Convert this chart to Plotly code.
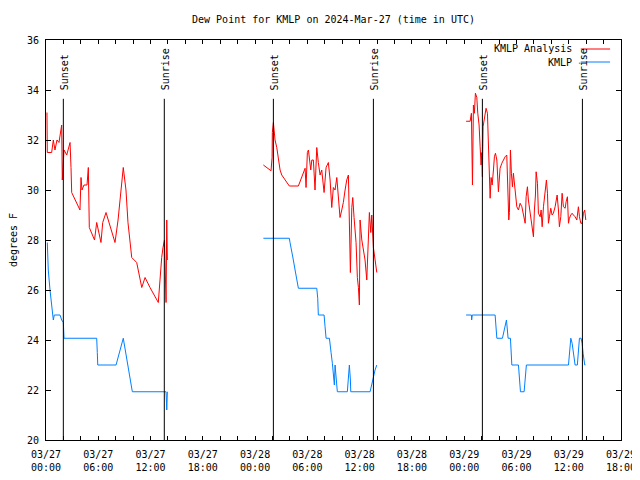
import plotly.graph_objects as go
import pandas as pd

# ---- data (hours after 2024-03-27 00:00 UTC, dew point in F) ----
base = pd.Timestamp("2024-03-27 00:00")

analysis_hours = [
    0.11, 0.15, 0.65, 0.84, 1.03, 1.26, 1.49, 1.80, 1.87, 2.07, 2.38, 2.56, 2.76, 2.87, 2.95,
    3.90, 4.02, 4.13, 4.36, 4.71, 4.86, 4.97, 5.57, 5.82, 6.00, 6.31, 6.51, 6.89, 7.92, 8.27,
    8.87, 9.18, 9.41, 9.84, 10.41, 10.79, 10.99, 11.37, 11.94, 12.89, 13.09, 13.28, 13.43,
    13.60, 13.78, 13.86, 13.93,
    None,
    24.95, 25.83, 25.95, 25.98, 26.10, 26.18, 26.29, 26.49, 26.67, 26.87, 27.06, 27.44, 27.93,
    28.97, 29.36, 29.74, 29.85, 30.00, 30.12, 30.23, 30.39, 30.51, 30.69, 30.88, 31.08, 31.26,
    31.46, 31.65, 31.92, 32.15, 32.41, 32.61, 32.80, 32.98, 33.18, 33.38, 33.56, 33.75, 33.95,
    34.13, 34.33, 34.52, 34.71, 34.82, 34.94, 35.10, 35.21, 35.36, 35.59, 35.74, 35.86, 35.97,
    36.05, 36.25, 36.43, 36.62, 36.82, 37.00, 37.12, 37.28, 37.39, 37.58, 37.77, 37.97,
    None,
    48.22, 48.68, 48.83, 48.95, 49.06, 49.17, 49.29, 49.45, 49.56, 49.71, 49.83, 49.94, 50.02,
    50.09, 50.17, 50.28, 50.40, 50.51, 50.67, 50.78, 50.90, 50.98, 51.09, 51.21, 51.36, 51.47,
    51.59, 51.75, 51.93, 52.12, 52.32, 52.50, 52.70, 52.89, 53.01, 53.12, 53.19, 53.31, 53.42,
    53.54, 53.65, 53.77, 53.88, 54.04, 54.23, 54.42, 54.62, 54.80, 55.00, 55.11, 55.26, 55.37,
    55.57, 55.76, 55.95, 56.06, 56.18, 56.26, 56.41, 56.52, 56.72, 56.83, 56.95, 57.10, 57.29,
    57.44, 57.56, 57.67, 57.79, 57.94, 58.09, 58.24, 58.44, 58.55, 58.67, 58.82, 58.93, 59.09,
    59.24, 59.39, 59.59, 59.70, 59.85, 59.97, 60.08, 60.24, 60.39, 60.54, 60.73, 60.93, 61.11,
    61.23, 61.39, 61.54, 61.69, 61.83, 61.96,
]
analysis_vals = [
    33.1, 31.5, 31.5, 32.0, 31.6, 32.0, 31.9, 32.6, 30.4, 31.6, 31.4, 31.7, 31.9, 30.9, 29.9,
    29.2, 30.5, 30.0, 30.2, 30.2, 30.9, 28.5, 28.0, 28.7, 28.4, 27.9, 28.7, 29.1, 27.9, 28.8,
    30.9, 30.0, 28.7, 27.3, 27.1, 26.4, 26.1, 26.5, 26.1, 25.5, 26.5, 27.3, 27.7,
    28.0, 25.5, 28.8, 27.2,
    None,
    31.0, 30.77, 31.3, 32.3, 32.7, 32.3, 32.0, 31.7, 31.2, 30.8, 30.6, 30.4, 30.16,
    30.16, 30.5, 30.87, 30.1, 31.5, 31.6, 31.2, 30.8, 31.2, 31.2, 30.0, 31.7, 31.1,
    30.6, 30.8, 29.9, 30.9, 31.1, 30.4, 29.3, 30.1, 30.0, 30.5, 29.6, 28.9, 29.2,
    29.5, 30.0, 30.4, 30.6, 28.8, 26.7, 29.3, 29.7, 28.9, 27.9, 26.5, 26.1, 25.4,
    28.8, 28.0, 27.6, 27.2, 26.4, 27.7, 29.1, 28.3, 29.0, 27.7, 27.3, 26.7,
    None,
    32.75, 32.75, 33.07, 30.2, 33.4, 33.07, 33.87, 33.7, 33.07, 32.6, 31.73, 31.0, 31.5,
    30.53, 32.53, 32.8, 33.07, 33.27, 33.07, 32.0, 30.8, 29.67, 30.5, 30.2, 30.8, 31.33,
    31.47, 31.2, 29.93, 30.87, 31.07, 31.2, 31.33, 31.4, 29.33, 28.8, 29.1, 31.6, 30.67,
    30.13, 30.67, 30.27, 29.67, 29.33, 29.2, 29.47, 29.33, 28.93, 28.67, 29.73, 30.13, 29.6,
    29.07, 28.53, 28.13, 29.2, 29.8, 30.73, 30.27, 29.07, 28.93, 29.2, 28.53, 29.33, 30.0,
    30.4, 29.87, 28.67, 28.93, 29.27, 29.0, 29.07, 29.33, 29.53, 29.8, 29.2, 28.53, 28.93,
    29.87, 29.33, 29.27, 29.53, 29.73, 28.67, 28.87, 29.0, 29.07, 29.0, 28.93, 28.8, 29.33,
    28.93, 28.67, 28.67, 29.07, 29.2, 28.8,
]

obs_hours = [
    0.15, 0.26, 0.46, 0.65, 0.84, 0.95, 1.61, 1.80, 1.99, 2.07, 5.82, 5.89, 5.94, 8.04, 8.87,
    9.91, 13.78, 13.86, 13.93,
    None,
    24.95, 27.93, 28.01, 28.21, 28.39, 28.59, 28.78, 28.97, 31.08, 31.19, 31.26, 31.92, 32.03,
    32.15, 32.53, 32.61, 32.72, 32.87, 32.98, 33.10, 33.18, 33.29, 33.44, 34.59, 34.71, 34.82,
    34.94, 34.98, 37.20, 37.39, 37.58, 37.77, 37.97,
    None,
    48.22, 48.83, 48.86, 48.93, 51.55, 51.63, 51.75, 52.39, 52.58, 52.73, 52.85, 52.96, 53.04,
    53.31, 53.39, 53.47, 54.23, 54.34, 54.46, 54.88, 55.00, 55.14, 59.97, 60.08, 60.24, 60.39,
    60.54, 60.73, 60.99, 61.11, 61.23, 61.42, 61.54, 61.65, 61.73, 61.84, 61.91,
]
obs_vals = [
    27.9, 26.8, 26.0, 25.5, 24.8, 25.0, 25.0, 24.8, 24.7, 24.07, 24.07, 23.5, 23.0, 23.0, 24.07,
    21.93, 21.93, 21.2, 21.93,
    None,
    28.07, 28.07, 27.9, 27.6, 27.2, 26.8, 26.4, 26.07, 26.07, 25.67, 25.0, 25.0, 24.53,
    24.07, 24.07, 23.9, 23.5, 23.07, 22.67, 22.2, 23.0, 22.5, 21.93, 21.93, 22.67, 23.0,
    22.4, 21.93, 21.93, 22.27, 22.5, 22.8, 23.0,
    None,
    25.0, 25.0, 24.8, 25.0, 25.0, 24.53, 24.07, 24.07, 24.4, 24.67, 24.8, 24.4, 24.07,
    24.07, 23.53, 23.0, 23.0, 22.53, 21.93, 21.93, 22.53, 23.0, 23.0, 23.53, 24.07, 23.87,
    23.47, 23.0, 23.0, 23.53, 24.07, 24.07, 23.87, 23.47, 23.13, 23.0, 23.0,
]

sun_labels = ["Sunset", "Sunrise", "Sunset", "Sunrise", "Sunset", "Sunrise"]
sun_hours = [1.99, 13.58, 26.10, 37.58, 50.09, 61.57]

series_names = ["KMLP Analysis", "KMLP"]
series_colors = ["#ff0000", "#0080ff"]


def to_time(hours):
    return [None if h is None else base + pd.Timedelta(hours=h) for h in hours]


FONT = "DejaVu Sans Mono"
W, H = 632, 472  # page body adds an 8px offset

fig = go.Figure()
fig.add_trace(go.Scatter(x=to_time(analysis_hours), y=analysis_vals, mode="lines",
                         name=series_names[0], line=dict(color=series_colors[0], width=1),
                         connectgaps=False, showlegend=False))
fig.add_trace(go.Scatter(x=to_time(obs_hours), y=obs_vals, mode="lines",
                         name=series_names[1], line=dict(color=series_colors[1], width=1),
                         connectgaps=False, showlegend=False))

# sunrise / sunset markers
for lab, h in zip(sun_labels, sun_hours):
    t = base + pd.Timedelta(hours=h)
    fig.add_shape(type="line", xref="x", yref="paper", x0=t, x1=t, y0=0, y1=0.853,
                  line=dict(color="black", width=1))
    fig.add_annotation(x=t, xref="x", y=0.87, yref="paper", text=lab, textangle=-90,
                       showarrow=False, xanchor="center", yanchor="bottom", xshift=1,
                       font=dict(family=FONT, size=10, color="black"))

# gnuplot-style legend (text right-aligned, sample line to the right)
leg_y = [0.9775, 0.945]
for name, col, yy in zip(series_names, series_colors, leg_y):
    fig.add_annotation(x=0.919, xref="paper", y=yy, yref="paper", text=name,
                       showarrow=False, xanchor="right", yanchor="middle",
                       font=dict(family=FONT, size=10, color="black"))
    fig.add_shape(type="line", xref="paper", yref="paper", x0=0.930, x1=0.981, y0=yy, y1=yy,
                  line=dict(color=col, width=1))

fig.update_layout(
    width=W, height=H,
    margin=dict(l=38, r=19, t=32, b=40, autoexpand=False),
    paper_bgcolor="white", plot_bgcolor="white",
    font=dict(family=FONT, size=10, color="black"),
    title=dict(text="Dew Point for KMLP on 2024-Mar-27 (time in UTC)", x=0.5, xref="paper",
               xanchor="center", y=1 - 11 / H, yanchor="middle",
               font=dict(family=FONT, size=10, color="black")),
)
fig.update_xaxes(
    type="date",
    range=[base, base + pd.Timedelta(hours=66)],
    tick0=base, dtick=6 * 3600 * 1000, tickformat="%m/%d<br>%H:%M",
    ticks="inside", ticklen=4, tickcolor="black", ticklabelstandoff=5,
    minor=dict(dtick=2 * 3600 * 1000, ticks="inside", ticklen=4, tickcolor="black"),
    showline=True, linecolor="black", linewidth=1, mirror="ticks",
    showgrid=False, zeroline=False, automargin=False,
    tickfont=dict(family=FONT, size=10, color="black"),
)
fig.update_yaxes(
    range=[20, 36], dtick=2, tick0=20,
    ticks="inside", ticklen=5, tickcolor="black", ticklabelstandoff=4,
    showline=True, linecolor="black", linewidth=1, mirror="ticks",
    showgrid=False, zeroline=False, automargin=False,
    title=dict(text="degrees F", font=dict(family=FONT, size=10, color="black"), standoff=16),
    tickfont=dict(family=FONT, size=10, color="black"),
)

fig.write_html("out.html")
